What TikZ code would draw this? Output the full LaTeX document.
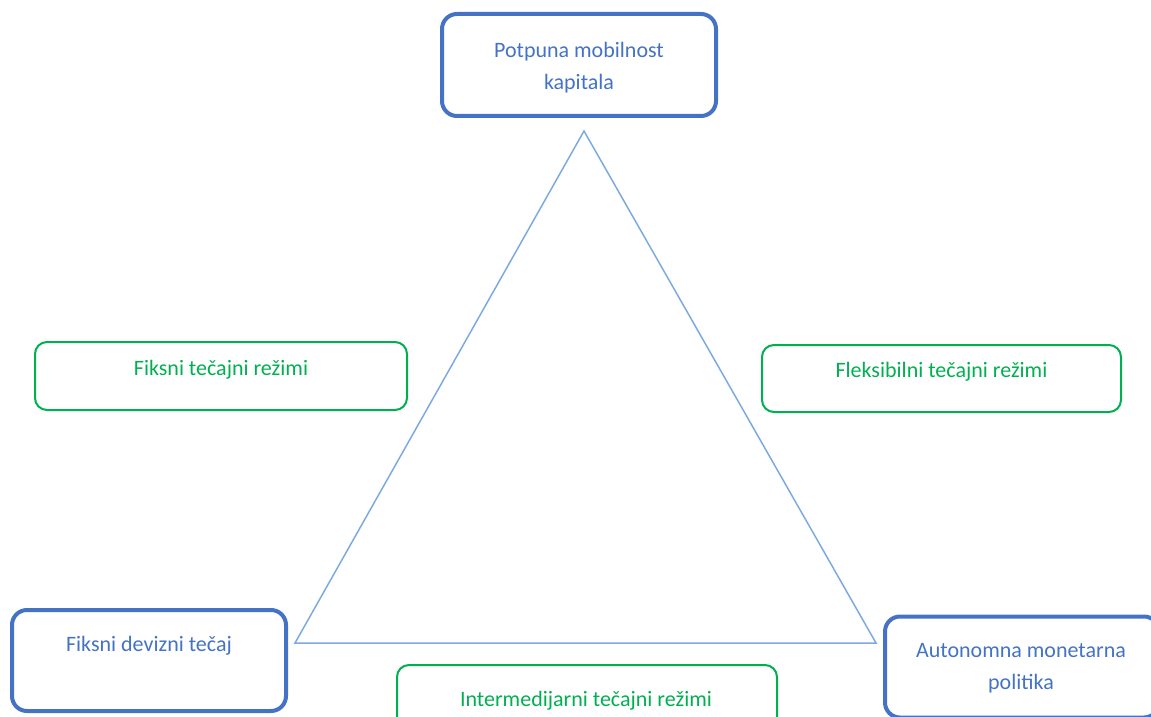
\documentclass[tikz,border=0pt]{standalone}
\usepackage{fontspec}
\setmainfont{Carlito}
\usepackage{tikz}
\usepackage{xcolor}
\definecolor{boxblue}{RGB}{68,114,196}
\definecolor{boxgreen}{RGB}{0,176,80}
\definecolor{triblue}{RGB}{125,170,225}
\begin{document}
\begin{tikzpicture}[x=0.5pt,y=-0.5pt]
    \tikzstyle{bb} = [draw=boxblue,line width=2pt,rounded corners=7.5pt,minimum width=137pt,inner sep=0pt]
    \tikzstyle{gb} = [draw=boxgreen,line width=1pt,rounded corners=6pt,minimum height=34pt,inner sep=0pt]
    \tikzstyle{bt} = [text=boxblue,align=center,font=\fontsize{11}{16}\selectfont]
    \tikzstyle{gt} = [text=boxgreen,align=center,font=\fontsize{11}{16}\selectfont]
    \useasboundingbox (0,0) rectangle (1151,717);
    % the triangle
    \coordinate (top) at (584,131);
    \coordinate (left) at (295,643);
    \coordinate (right) at (876,643);
    \draw [triblue,line width=0.75pt] (top) -- (left) -- (right) -- cycle;
    % corners
    \node [bb,minimum height=51pt] (kap) at (579,65) {};
    \node [bt] (kapt) at (579,68) {Potpuna mobilnost\\kapitala};
    \node [bb,minimum height=50.5pt] (fiks) at (149,660.5) {};
    \node [bt] (fikst) at (149,646) {Fiksni devizni tečaj};
    \node [bb,minimum height=50.5pt] (auto) at (1022,667) {};
    \node [bt] (autot) at (1021,668.5) {Autonomna monetarna\\politika};
    % regimes
    \node [gb,minimum width=186pt] (fix) at (221,376) {};
    \node [gt] (fixt) at (221,370) {Fiksni tečajni režimi};
    \node [gb,minimum width=179.5pt,minimum height=33.5pt] (flex) at (941.5,378.5) {};
    \node [gt] (flext) at (941.5,372) {Fleksibilni tečajni režimi};
    \node [gb,minimum width=190pt] (inter) at (587,699) {};
    \node [gt] (intert) at (586,701) {Intermedijarni tečajni režimi};
  \end{tikzpicture}
\end{document}
